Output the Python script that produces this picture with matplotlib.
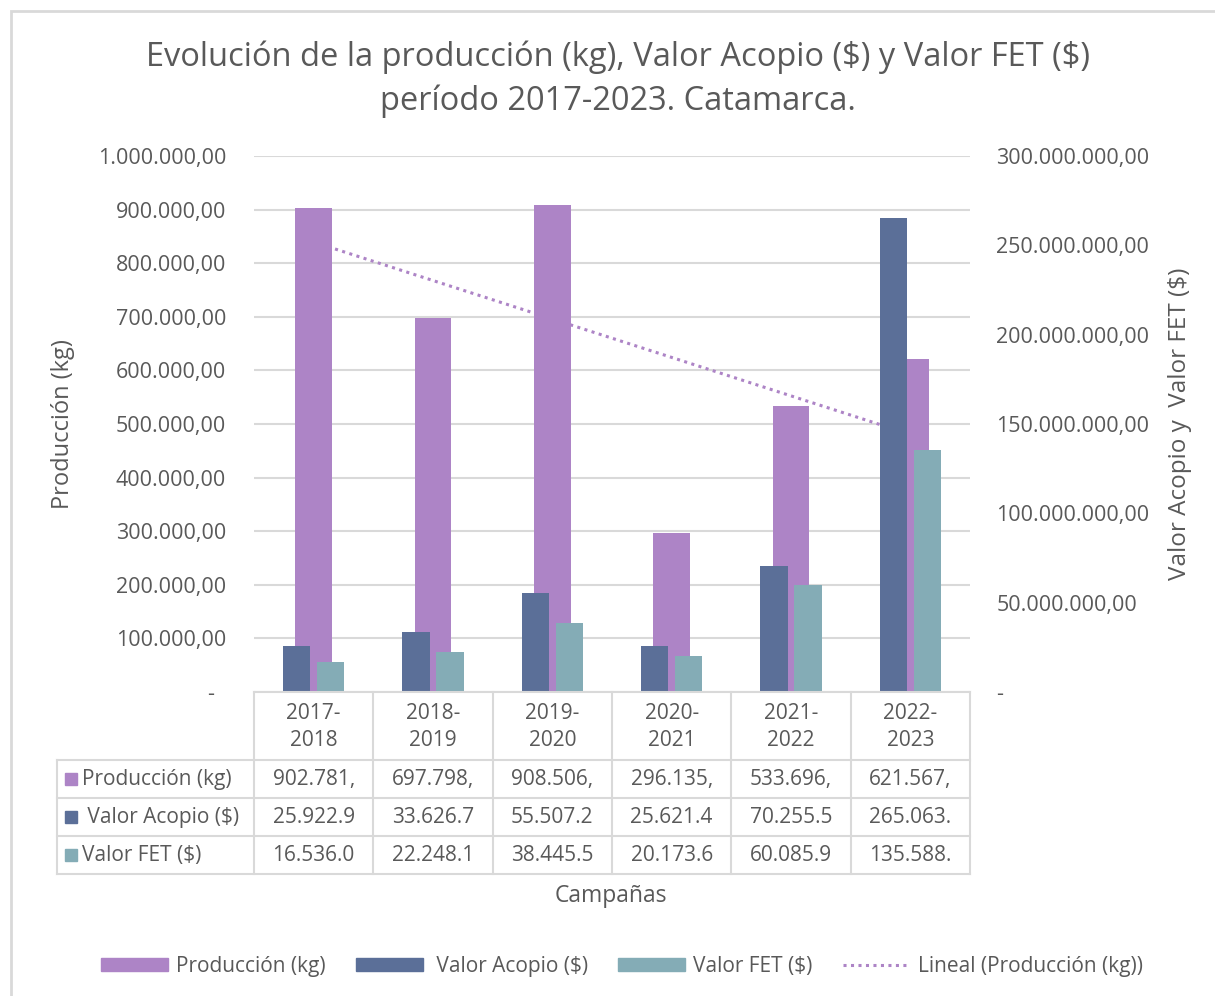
import matplotlib
matplotlib.use("Agg")
import matplotlib.pyplot as plt
import numpy as np
from matplotlib.patches import Rectangle, Patch
from matplotlib.lines import Line2D

plt.rcParams['font.family'] = ['Open Sans', 'DejaVu Sans']

campanas = ['2017-\n2018', '2018-\n2019', '2019-\n2020', '2020-\n2021', '2021-\n2022', '2022-\n2023']
produccion = [902781, 697798, 908506, 296135, 533696, 621567]
acopio = [25922900, 33626700, 55507200, 25621400, 70255500, 265063000]
fet = [16536000, 22248100, 38445500, 20173600, 60085900, 135588000]
series_names = ['Producción (kg)', ' Valor Acopio (\\$)', 'Valor FET (\\$)']

c_prod = '#AD84C6'
c_acop = '#5B6F98'
c_fet = '#84ACB6'
c_text = '#595959'
c_grid = '#D9D9D9'

W, H = 1215, 996
dots = (0, (1, 1.45))


def fx(px):
    return px / W


def fy(py):
    return 1 - py / H


def es_fmt(v, dec=2):
    s = f"{v:,.{dec}f}"
    return s.replace(',', 'X').replace('.', ',').replace('X', '.')


fig = plt.figure(figsize=(W / 100, H / 100), dpi=100)

ax_l, ax_r, ax_t, ax_b = 254, 970, 156, 692
ax = fig.add_axes([fx(ax_l), fy(ax_b), fx(ax_r - ax_l), (ax_b - ax_t) / H])
x = np.arange(len(produccion))

ax.bar(x, produccion, width=0.31, color=c_prod, zorder=3)
coef = np.polyfit(x, produccion, 1)
ax.plot(x, np.polyval(coef, x), linestyle=dots, color=c_prod, lw=2.2, zorder=2)

ax.set_xlim(-0.5, len(x) - 0.5)
ax.set_ylim(0, 1000000)
ax.set_yticks(np.arange(0, 1000001, 100000))
ax.set_yticklabels(['-  '] + [es_fmt(v) for v in range(100000, 1000001, 100000)])
ax.yaxis.grid(True, color=c_grid, lw=1.5)
ax.set_axisbelow(True)
ax.set_xticks([])
ax.tick_params(axis='y', length=0, pad=20, labelsize=15.5, labelcolor=c_text)
for s in ax.spines.values():
    s.set_visible(False)

ax2 = ax.twinx()
ax2.bar(x - 0.143, acopio, width=0.23, color=c_acop, zorder=3)
ax2.bar(x + 0.143, fet, width=0.23, color=c_fet, zorder=3)
ax2.set_ylim(0, 300000000)
ax2.set_yticks(np.arange(0, 300000001, 50000000))
ax2.set_yticklabels(['-'] + [es_fmt(v) for v in range(50000000, 300000001, 50000000)])
ax2.tick_params(axis='y', length=0, pad=19, labelsize=15.5, labelcolor=c_text)
for s in ax2.spines.values():
    s.set_visible(False)

# title
fig.text(fx(618), fy(57), 'Evolución de la producción (kg), Valor Acopio (\\$) y Valor FET (\\$)',
         ha='center', va='center', fontsize=23.5, color=c_text)
fig.text(fx(618), fy(101), 'período 2017-2023. Catamarca.',
         ha='center', va='center', fontsize=23.5, color=c_text)

# axis titles
fig.text(fx(63), fy(424), 'Producción (kg)', rotation=90, ha='center', va='center',
         fontsize=17, color=c_text)
fig.text(fx(1180), fy(424), 'Valor Acopio y  Valor FET (\\$)', rotation=90, ha='center',
         va='center', fontsize=17.5, color=c_text)

# data table under the plot
col_w = (ax_r - ax_l) / len(x)
rows_y = [692, 760, 798, 836, 874]
for yy in rows_y[1:]:
    fig.add_artist(Line2D([fx(57), fx(ax_r)], [fy(yy), fy(yy)], color=c_grid, lw=1.5))
fig.add_artist(Line2D([fx(ax_l), fx(ax_r)], [fy(692), fy(692)], color=c_grid, lw=1.5))
for i in range(len(x) + 1):
    xx = ax_l + i * col_w
    fig.add_artist(Line2D([fx(xx), fx(xx)], [fy(692), fy(874)], color=c_grid, lw=1.5))
fig.add_artist(Line2D([fx(57), fx(57)], [fy(760), fy(874)], color=c_grid, lw=1.5))

for i, lab in enumerate(campanas):
    fig.text(fx(ax_l + (i + 0.5) * col_w), fy(727), lab, ha='center', va='center',
             fontsize=15, color=c_text, linespacing=1.4)

table_vals = [[es_fmt(v)[:8] for v in produccion],
              [es_fmt(v)[:8] for v in acopio],
              [es_fmt(v)[:8] for v in fet]]
colors = [c_prod, c_acop, c_fet]
for r in range(3):
    yc = (rows_y[r + 1] + rows_y[r + 2]) / 2
    fig.add_artist(Rectangle((fx(65), fy(yc + 6)), fx(12), 12 / H, color=colors[r]))
    fig.text(fx(82), fy(yc), series_names[r], ha='left', va='center',
             fontsize=15, color=c_text)
    for i, t in enumerate(table_vals[r]):
        fig.text(fx(ax_l + (i + 0.5) * col_w), fy(yc), t, ha='center', va='center',
                 fontsize=15, color=c_text)

fig.text(fx(611), fy(896), 'Campañas', ha='center', va='center', fontsize=16.5, color=c_text)

handles = [Patch(color=c_prod), Patch(color=c_acop), Patch(color=c_fet),
           Line2D([0], [0], color=c_prod, lw=2.2, linestyle=dots)]
labels = ['Producción (kg)', ' Valor Acopio (\\$)', 'Valor FET (\\$)', 'Lineal (Producción (kg))']
fig.legend(handles, labels, loc='center', bbox_to_anchor=(fx(622), fy(966)), ncol=4,
           frameon=False, fontsize=15, labelcolor=c_text, handlelength=3.2,
           handleheight=0.6, handletextpad=0.4, columnspacing=1.45)

# chart border
fig.add_artist(Rectangle((fx(11), fy(1010)), fx(1220), 999 / H, fill=False,
                         edgecolor=c_grid, lw=2))

fig.savefig('out.png', dpi=100)
